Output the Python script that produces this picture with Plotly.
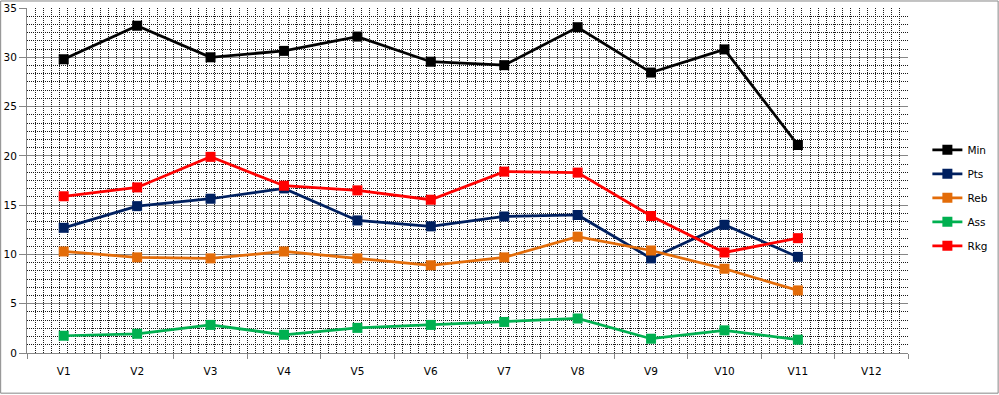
import plotly.graph_objects as go

categories = ["V1", "V2", "V3", "V4", "V5", "V6", "V7", "V8", "V9", "V10", "V11", "V12"]
min_vals = [29.8, 33.2, 30.0, 30.65, 32.1, 29.55, 29.2, 33.05, 28.45, 30.8, 21.1]
pts_vals = [12.7, 14.9, 15.65, 16.7, 13.45, 12.85, 13.85, 14.0, 9.6, 13.0, 9.75]
reb_vals = [10.3, 9.7, 9.6, 10.3, 9.6, 8.9, 9.7, 11.8, 10.4, 8.55, 6.35]
ass_vals = [1.75, 1.95, 2.85, 1.85, 2.55, 2.85, 3.15, 3.5, 1.45, 2.3, 1.35]
rkg_vals = [15.9, 16.8, 19.9, 16.97, 16.5, 15.55, 18.4, 18.3, 13.9, 10.2, 11.65]

series = [
    ("Min", min_vals, "#000000"),
    ("Pts", pts_vals, "#002060"),
    ("Reb", reb_vals, "#E36C09"),
    ("Ass", ass_vals, "#00B050"),
    ("Rkg", rkg_vals, "#FF0000"),
]

FONT = "DejaVu Sans"
GRAY = "#868686"
DOT = "1px,1px"
DOTCOLOR = "#1a1a1a"

fig = go.Figure()

# invisible trace that carries the overlay axis for the dotted vertical grid
fig.add_trace(go.Scatter(x=[-0.5, 11.5], y=[None, None], xaxis="x2", yaxis="y",
                         mode="lines", showlegend=False, hoverinfo="skip"))

for name, vals, color in series:
    fig.add_trace(go.Scatter(
        x=categories[:len(vals)], y=vals, name=name, legendgroup=name,
        mode="lines+markers",
        line=dict(color=color, width=2.75),
        marker=dict(symbol="square", size=10, color=color, line=dict(width=0)),
    ))

fig.update_layout(
    width=999, height=395,
    margin=dict(l=27, r=91, t=8, b=42, autoexpand=False),
    paper_bgcolor="white", plot_bgcolor="white",
    font=dict(family=FONT, size=10.5, color="#000000"),
    showlegend=True,
    legend=dict(x=1.022, y=0.45, xanchor="left", yanchor="middle",
                font=dict(family=FONT, size=10.5, color="#000000"),
                tracegroupgap=5, bgcolor="rgba(0,0,0,0)", borderwidth=0),
    xaxis=dict(
        type="category", categoryorder="array", categoryarray=categories,
        range=[-0.5, 11.5], tickson="boundaries", automargin=False,
        ticks="outside", ticklen=5, tickcolor=GRAY, tickwidth=1,
        showline=True, linecolor=GRAY, linewidth=1,
        showgrid=False, zeroline=False, ticklabelstandoff=8,
        tickfont=dict(family=FONT, size=10.5, color="#000000"),
    ),
    xaxis2=dict(
        overlaying="x", anchor="y", range=[-0.5, 11.5], automargin=False,
        tickmode="linear", tick0=-0.5, dtick=1 / 9,
        showgrid=True, gridcolor=DOTCOLOR, gridwidth=1, griddash=DOT,
        showticklabels=False, ticks="", showline=False, zeroline=False,
    ),
    yaxis=dict(
        range=[0, 35], tickmode="linear", tick0=0, dtick=5, automargin=False,
        ticks="outside", ticklen=7, tickcolor=GRAY, tickwidth=1,
        showline=True, linecolor=GRAY, linewidth=1,
        showgrid=True, gridcolor=GRAY, gridwidth=1, zeroline=False,
        tickfont=dict(family=FONT, size=10.5, color="#000000"),
        minor=dict(tickmode="linear", tick0=0, dtick=5 / 6, showgrid=True,
                   gridcolor=DOTCOLOR, gridwidth=1, griddash=DOT, ticks=""),
    ),
    shapes=[dict(type="rect", xref="paper", yref="paper",
                 x0=-0.0299, x1=1.1023, y0=-0.1164, y1=1.0203,
                 line=dict(color=GRAY, width=1), fillcolor="rgba(0,0,0,0)",
                 layer="below")],
)

fig.write_html("out.html", config={"displayModeBar": False},
               post_script="document.body.style.margin='0';document.body.style.overflow='hidden';")
